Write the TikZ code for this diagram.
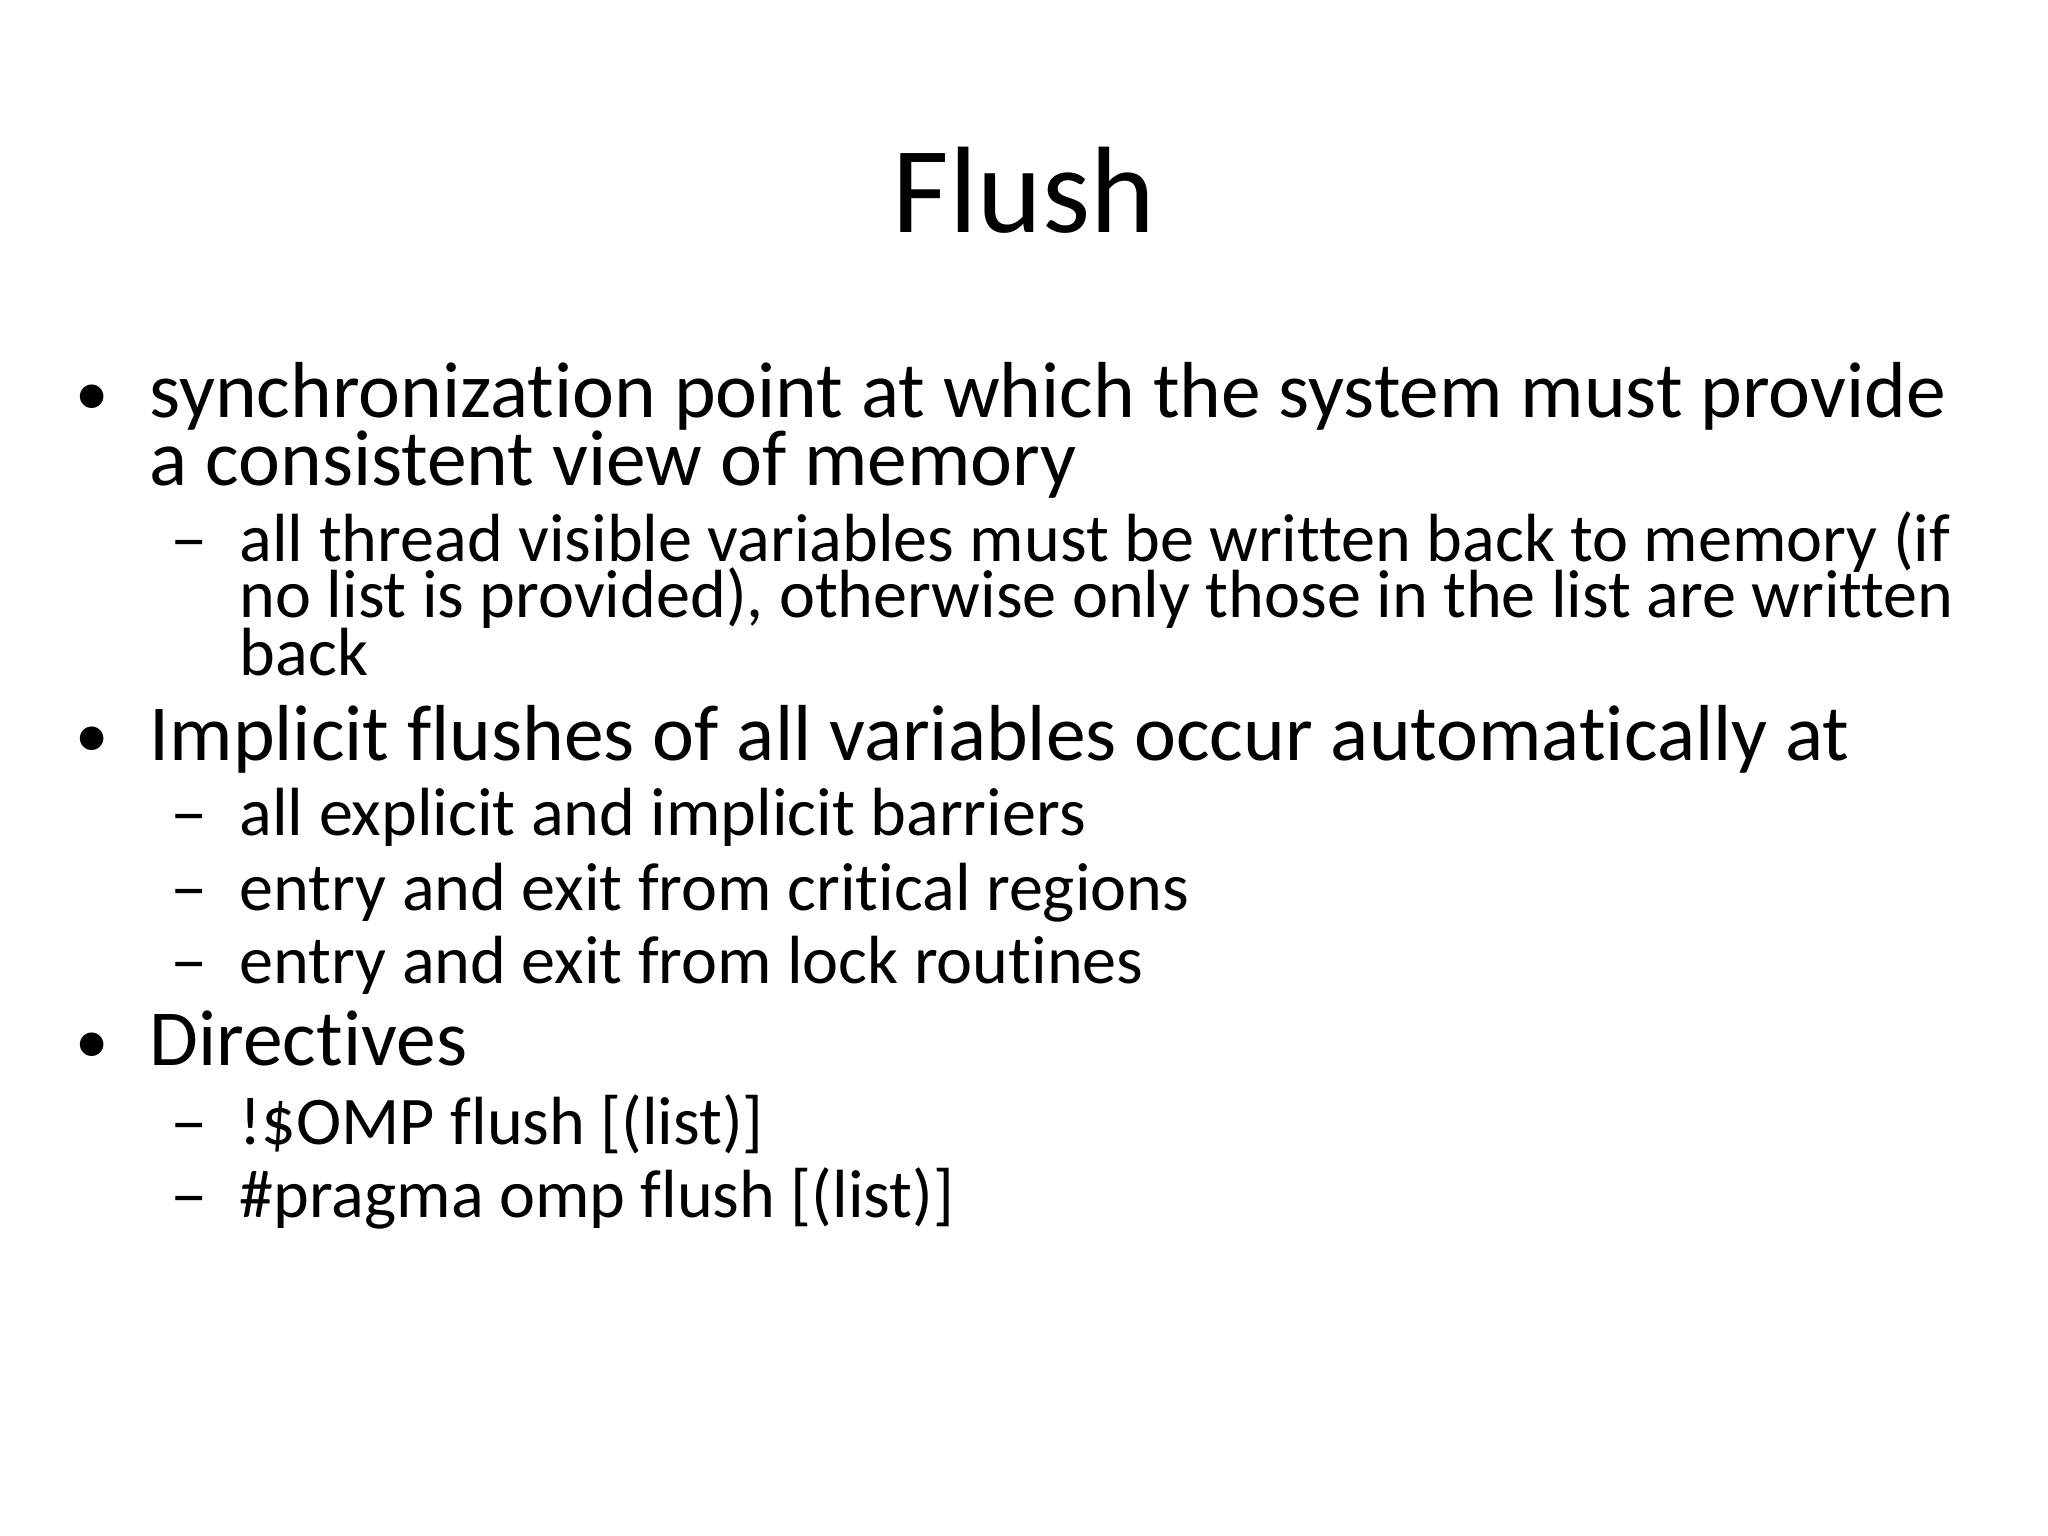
\documentclass[tikz,border=0pt]{standalone}
\usepackage{fontspec}
\setmainfont{Carlito}[Ligatures={NoCommon}]
\begin{document}
\begin{tikzpicture}[x=0.01306cm,y=-0.01306cm,
  lone/.style={anchor=base west,inner sep=0pt,font=\fontsize{22.6}{27}\selectfont},
  ltwo/.style={anchor=base west,inner sep=0pt,font=\fontsize{19.4}{22}\selectfont},
  bul/.style={anchor=base west,inner sep=0pt,font=\fontsize{19}{22}\selectfont},
  dsh/.style={anchor=base west,inner sep=0pt,font=\fontsize{19.4}{22}\selectfont}]
\useasboundingbox[fill=white] (0,0) rectangle (1568,1176);
\node[anchor=base,inner sep=0pt,font=\fontsize{35}{42}\selectfont] (title) at (784,178) {Flush};
\node[bul] (b1) at (57,318) {•};
\node[lone] (t1a) at (114,320) {synchronization point at which the system must provide};
\node[lone] (t1b) at (114,372) {a consistent view of memory};
\node[dsh] (d1) at (130,430) {\scalebox{1.1}[1]{–}};
\node[ltwo] (s1a) at (183,430) {all thread visible variables must be written back to memory (if};
\node[ltwo] (s1b) at (183,473) {no list is provided), otherwise only those in the list are written};
\node[ltwo] (s1c) at (183,517) {back};
\node[bul] (b2) at (57,580) {•};
\node[lone] (t2) at (114,582) {Implicit flushes of all variables occur automatically at};
\node[dsh] (d2) at (130,640) {\scalebox{1.1}[1]{–}};
\node[ltwo] (s2) at (183,640) {all explicit and implicit barriers};
\node[dsh] (d3) at (130,697) {\scalebox{1.1}[1]{–}};
\node[ltwo] (s3) at (183,697) {entry and exit from critical regions};
\node[dsh] (d4) at (130,753) {\scalebox{1.1}[1]{–}};
\node[ltwo] (s4) at (183,753) {entry and exit from lock routines};
\node[bul] (b3) at (57,814) {•};
\node[lone] (t3) at (114,816) {Directives};
\node[dsh] (d5) at (130,876) {\scalebox{1.1}[1]{–}};
\node[ltwo] (s5) at (183,876) {!\$OMP flush [(list)]};
\node[dsh] (d6) at (130,932) {\scalebox{1.1}[1]{–}};
\node[ltwo] (s6) at (183,932) {\#pragma omp flush [(list)]};
\end{tikzpicture}
\end{document}
